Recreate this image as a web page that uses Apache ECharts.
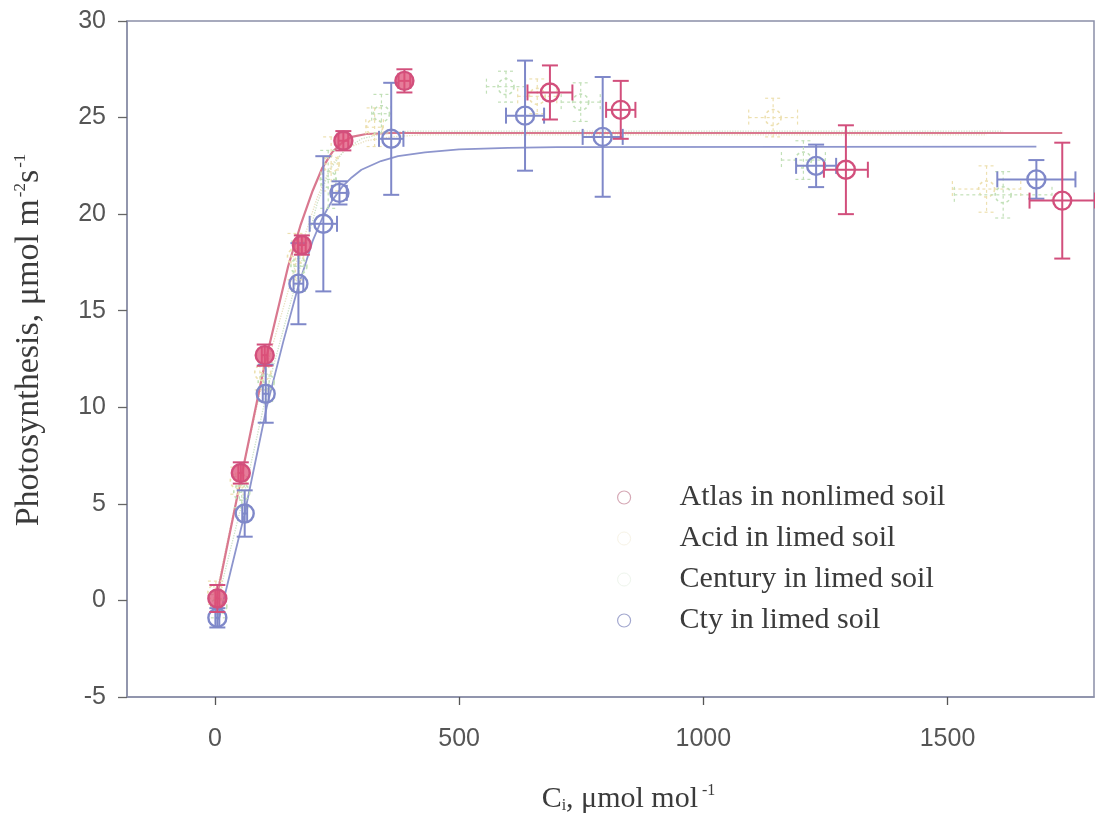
<!DOCTYPE html>
<html>
<head>
<meta charset="utf-8">
<title>Photosynthesis vs Ci</title>
<script src="https://cdn.jsdelivr.net/npm/echarts@6/dist/echarts.min.js"></script>
<style>
  html, body { margin: 0; padding: 0; background: #ffffff; }
  #chart { width: 1095px; height: 824px; }
</style>
</head>
<body>
<div id="chart"></div>
<script>
// Axis ticks
const xTicks = [0, 500, 1000, 1500];
const yTicks = [-5, 0, 5, 10, 15, 20, 25, 30];

// Atlas in nonlimed soil: Ci, A, and their errors
const atlasCi    = [5, 53, 102, 178, 263, 388, 686, 831, 1292, 1735];
const atlasA     = [0.1, 6.6, 12.7, 18.4, 23.8, 26.9, 26.3, 25.4, 22.3, 20.7];
const atlasCiErr = [4, 5, 6, 8, 10, 12, 46, 30, 45, 67];
const atlasAErr  = [0.7, 0.55, 0.55, 0.5, 0.5, 0.6, 1.4, 1.5, 2.3, 3.0];

// Acid in limed soil
const acidCi     = [2, 48, 98, 165, 238, 327, 660, 1143, 1580];
const acidA      = [0.4, 6.2, 11.8, 17.8, 22.6, 24.5, 26.1, 25.0, 21.3];
const acidCiErr  = [4, 5, 6, 9, 14, 18, 40, 50, 70];
const acidAErr   = [0.6, 0.7, 0.9, 1.2, 1.4, 1.0, 0.9, 1.0, 1.2];

// Century in limed soil
const centuryCi    = [8, 55, 105, 172, 232, 341, 596, 749, 1205, 1614];
const centuryA     = [-0.3, 5.6, 11.3, 17.3, 21.8, 25.2, 26.6, 25.8, 22.8, 21.0];
const centuryCiErr = [4, 5, 6, 10, 15, 20, 40, 40, 45, 100];
const centuryAErr  = [0.6, 0.8, 1.0, 1.3, 1.5, 1.0, 0.8, 1.0, 1.0, 1.2];

// Cty in limed soil
const ctyCi    = [5, 61, 104, 171, 222, 255, 361, 635, 794, 1231, 1682];
const ctyA     = [-0.9, 4.5, 10.7, 16.4, 19.5, 21.1, 23.9, 25.1, 24.0, 22.5, 21.8];
const ctyCiErr = [4, 5, 6, 10, 28, 15, 25, 39, 41, 41, 80];
const ctyAErr  = [0.5, 1.2, 1.5, 2.1, 3.5, 0.6, 2.9, 2.85, 3.1, 1.1, 1.0];

// Fitted response curves (traced points)
const atlasFitCi   = [0, 50, 100, 150, 175, 200, 220, 240, 260, 280, 310, 360, 1735];
const atlasFitA    = [-0.3, 5.9, 12.0, 17.3, 19.4, 21.2, 22.4, 23.2, 23.7, 24.0, 24.15, 24.2, 24.2];
const acidFitCi    = [0, 50, 100, 170, 210, 240, 270, 310, 360, 420, 1580];
const acidFitA     = [0.0, 6.0, 11.6, 17.8, 20.9, 22.6, 23.4, 23.8, 24.0, 24.1, 24.1];
const centuryFitCi = [0, 60, 110, 175, 210, 235, 265, 300, 350, 400, 1614];
const centuryFitA  = [-0.6, 5.5, 11.2, 17.3, 20.6, 22.3, 23.3, 23.9, 24.2, 24.3, 24.3];
const ctyFitCi     = [8, 60, 106, 140, 170, 200, 220, 240, 260, 280, 300, 340, 375, 430, 500, 600, 700, 1682];
const ctyFitA      = [-1.0, 4.4, 10.0, 13.4, 16.2, 18.6, 19.8, 20.7, 21.4, 21.9, 22.3, 22.75, 23.0, 23.2, 23.35, 23.43, 23.47, 23.5];

const names = ['Atlas in nonlimed soil', 'Acid in limed soil', 'Century in limed soil', 'Cty in limed soil'];

function rows(ci, a, ciErr, aErr) {
  return ci.map((v, i) => [v, a[i], ciErr[i], aErr[i]]);
}
function pairs(ci, a) { return ci.map((v, i) => [v, a[i]]); }

// Marker with x/y error bars and caps
function makeRenderer(stroke, opts) {
  return function (params, api) {
    const x = api.value(0), y = api.value(1), xe = api.value(2), ye = api.value(3);
    const c = api.coord([x, y]);
    const t = api.coord([x, y + ye]);
    const b = api.coord([x, y - ye]);
    const l = api.coord([x - xe, y]);
    const r = api.coord([x + xe, y]);
    const cap = 8;
    const ls = { stroke: stroke, lineWidth: opts.lw, lineDash: opts.dash || null, fill: null };
    const kids = [
      { type: 'line', shape: { x1: c[0], y1: t[1], x2: c[0], y2: b[1] }, style: ls },
      { type: 'line', shape: { x1: c[0] - cap, y1: t[1], x2: c[0] + cap, y2: t[1] }, style: ls },
      { type: 'line', shape: { x1: c[0] - cap, y1: b[1], x2: c[0] + cap, y2: b[1] }, style: ls },
      { type: 'line', shape: { x1: l[0], y1: c[1], x2: r[0], y2: c[1] }, style: ls },
      { type: 'line', shape: { x1: l[0], y1: c[1] - cap, x2: l[0], y2: c[1] + cap }, style: ls },
      { type: 'line', shape: { x1: r[0], y1: c[1] - cap, x2: r[0], y2: c[1] + cap }, style: ls },
      { type: 'circle', shape: { cx: c[0], cy: c[1], r: opts.r },
        style: { stroke: stroke, lineWidth: opts.lw + 0.4, lineDash: opts.dash || null,
                 fill: opts.fillFn ? opts.fillFn(x) : 'rgba(255,255,255,0)' } }
    ];
    return { type: 'group', children: kids };
  };
}

const RED = '#d24f7c', BLUE = '#7f88c9', GREEN = '#c2e0b8', YELLOW = '#ede0b0';
const serif = '"Liberation Serif", "DejaVu Serif", serif';
const sans = '"Liberation Sans", Arial, sans-serif';

function fitLine(name, data, color, width, type) {
  return {
    name: name, type: 'line', data: data, symbol: 'none', smooth: false,
    lineStyle: { color: color, width: width, type: type || 'solid' }, silent: true, z: 2
  };
}
function points(name, data, color, opts, z) {
  return {
    name: name, type: 'custom', data: data, renderItem: makeRenderer(color, opts),
    itemStyle: { color: color }, z: z, encode: { x: 0, y: 1 }
  };
}

const chart = echarts.init(document.getElementById('chart'), null, { renderer: 'canvas' });
chart.setOption({
  backgroundColor: '#ffffff',
  animation: false,
  grid: { left: 127, right: 1, top: 21, bottom: 127, show: true, borderColor: '#8b8fa8', borderWidth: 1.5 },
  legend: {
    orient: 'vertical', left: 612, top: 476, itemWidth: 13, itemHeight: 13, itemGap: 8,
    selectedMode: false,
    textStyle: { fontFamily: serif, fontSize: 30, color: '#3b3b3b', lineHeight: 33, padding: [0, 0, 0, 44] },
    data: [
      { name: names[0], icon: 'circle', itemStyle: { color: '#ffffff', borderColor: '#d6a9b6', borderWidth: 1.2 } },
      { name: names[1], icon: 'circle', itemStyle: { color: '#ffffff', borderColor: '#f7f3e6', borderWidth: 1 } },
      { name: names[2], icon: 'circle', itemStyle: { color: '#ffffff', borderColor: '#eef5ec', borderWidth: 1 } },
      { name: names[3], icon: 'circle', itemStyle: { color: '#ffffff', borderColor: '#a3a8cf', borderWidth: 1.2 } }
    ]
  },
  xAxis: {
    type: 'value', min: -180, max: 1800,
    name: 'C{sub|i}, μmol mol{sup|-1}', nameLocation: 'middle', nameGap: 86,
    nameTextStyle: {
      fontFamily: serif, fontSize: 30, color: '#3b3b3b', padding: [0, 0, 0, 36],
      rich: {
        sub: { fontFamily: serif, fontSize: 16, color: '#3b3b3b', padding: [14, 0, 0, 0] },
        sup: { fontFamily: serif, fontSize: 16, color: '#3b3b3b', padding: [0, 0, 16, 4] }
      }
    },
    axisLine: { show: true, onZero: false, lineStyle: { color: '#8b8fa8', width: 1.5 } },
    axisTick: { show: true, length: 8, customValues: xTicks, lineStyle: { color: '#555', width: 1.3 } },
    axisLabel: { customValues: xTicks, formatter: v => String(v), margin: 30, fontFamily: sans, fontSize: 25, color: '#555' },
    splitLine: { show: false }
  },
  yAxis: {
    type: 'value', min: yTicks[0], max: yTicks[yTicks.length - 1], interval: 5,
    name: 'Photosynthesis, μmol m{sup|-2}s{sup|-1}', nameLocation: 'middle', nameGap: 80, nameRotate: 90,
    nameTextStyle: {
      fontFamily: serif, fontSize: 34, color: '#3b3b3b', padding: [0, 0, 0, 38],
      rich: { sup: { fontFamily: serif, fontSize: 17, color: '#3b3b3b', padding: [0, 0, 18, 2] } }
    },
    axisLine: { show: true, onZero: false, lineStyle: { color: '#8b8fa8', width: 1.5 } },
    axisTick: { show: true, length: 9, lineStyle: { color: '#666', width: 1.3 } },
    axisLabel: { margin: 21, fontFamily: sans, fontSize: 25, color: '#555' },
    splitLine: { show: false }
  },
  series: [
    fitLine(names[1], pairs(acidFitCi, acidFitA), '#e9e0c0', 1.3, 'dotted'),
    fitLine(names[2], pairs(centuryFitCi, centuryFitA), '#cde3c8', 1.3, 'dotted'),
    fitLine(names[3], pairs(ctyFitCi, ctyFitA), '#8d95cd', 1.8),
    fitLine(names[0], pairs(atlasFitCi, atlasFitA), '#d9788f', 2.2),
    points(names[1], rows(acidCi, acidA, acidCiErr, acidAErr), YELLOW, { lw: 1.2, r: 8, dash: [3, 3] }, 3),
    points(names[2], rows(centuryCi, centuryA, centuryCiErr, centuryAErr), GREEN, { lw: 1.2, r: 8, dash: [3, 3] }, 3),
    points(names[3], rows(ctyCi, ctyA, ctyCiErr, ctyAErr), BLUE, { lw: 2, r: 9 }, 4),
    points(names[0], rows(atlasCi, atlasA, atlasCiErr, atlasAErr), RED,
      { lw: 2, r: 9, fillFn: x => (x < 500 ? 'rgba(222,80,120,0.75)' : 'rgba(255,255,255,0)') }, 5)
  ]
});
</script>
</body>
</html>
